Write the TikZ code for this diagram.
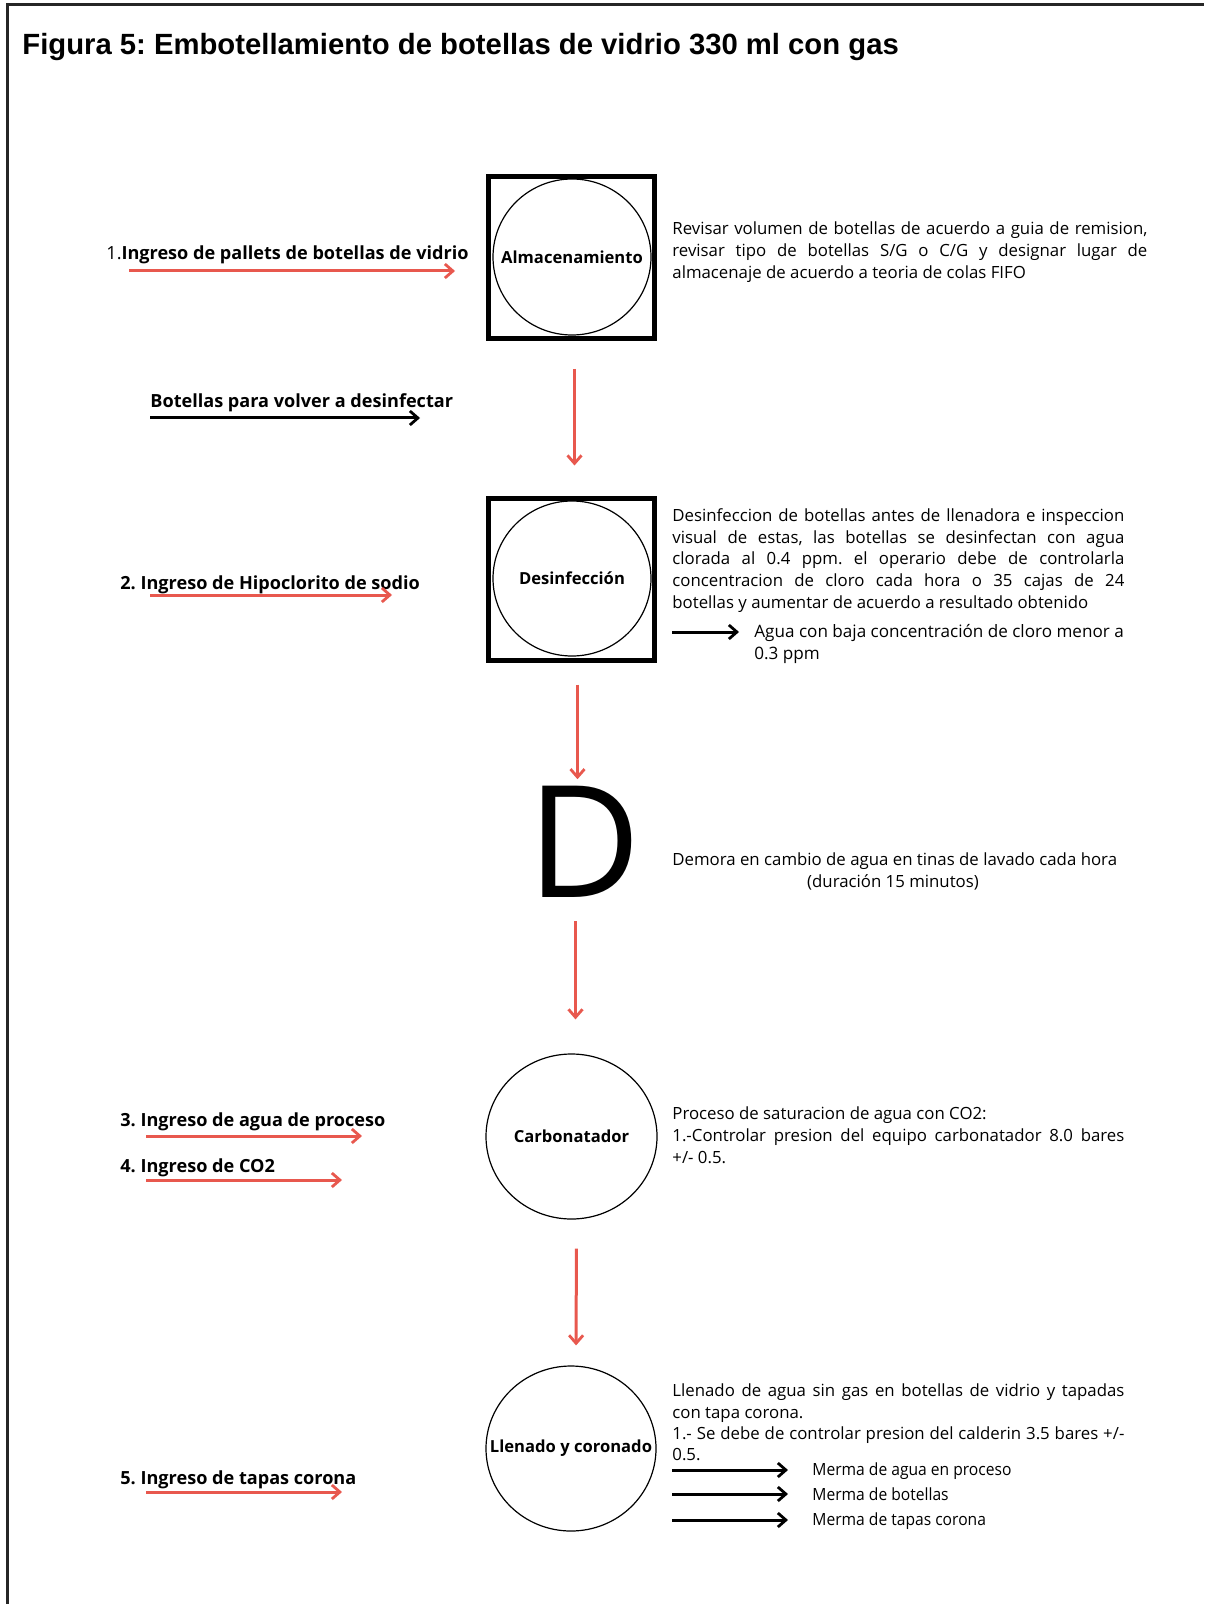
\documentclass[tikz,border=0pt]{standalone}
\usepackage{fontspec}
\usetikzlibrary{arrows.meta,shapes.geometric}
\setmainfont{Open Sans}
\newfontfamily\titlefont{Liberation Sans}
\newfontfamily\mermafont{Open Sans}[FakeStretch=0.93]
\definecolor{flowred}{RGB}{232,88,78}
\frenchspacing
\newcommand{\bodysize}{\fontsize{8.4pt}{11pt}\selectfont}
\newcommand{\labelsize}{\fontsize{9.05pt}{11pt}\selectfont\bfseries}
\newcommand{\procsize}{\fontsize{8.3pt}{11pt}\selectfont\bfseries}
% a line stretched to a given width in sheet pixels (one pixel = 0.5pt)
\newcommand{\jline}[2]{\makebox[\dimexpr #1pt/2\relax][s]{#2}}
\tikzset{
  redflow/.style={draw=flowred, line width=1.5pt, -{Straight Barb[length=4pt,width=7pt,line width=1.4pt]}},
  blackflow/.style={draw=black, line width=1.5pt, -{Straight Barb[length=4pt,width=7pt,line width=1.4pt]}},
  procbox/.style={draw, line width=2.5pt, minimum width=83pt, minimum height=81pt, inner sep=0pt},
  proc/.style={draw, ellipse, line width=0.6pt, inner sep=0pt, font=\procsize},
  body/.style={anchor=base west, inner sep=0pt, font=\bodysize},
  mermabody/.style={body, font=\bodysize\mermafont},
  inlabel/.style={anchor=base west, inner sep=0pt, font=\labelsize},
}
\begin{document}
\begin{tikzpicture}[x=0.5pt,y=-0.5pt]
\useasboundingbox (0,0) rectangle (1204,1604);
% sheet frame
\draw[line width=1.5pt, black!85] (7,1604) -- (7,5) -- (1204,5);

% title
\node[anchor=base west, inner sep=0pt, font=\titlefont\bfseries\fontsize{14.63pt}{17pt}\selectfont] (title) at (22,55)
  {Figura 5: Embotellamiento de botellas de vidrio 330 ml con gas};

% process symbols
\node[procbox] (almbox) at (571.5,257.5) {};
\node[proc, minimum width=79pt, minimum height=78pt] (alm) at (572,257) {\makebox[0pt]{Almacenamiento}};
\node[procbox] (desbox) at (571.5,579) {};
\node[proc, minimum width=79pt, minimum height=77.5pt] (des) at (572,578.5) {\makebox[0pt]{Desinfección}};
\node[anchor=base west, inner sep=0pt, font=\fontsize{78pt}{80pt}\selectfont] (delay) at (527,897) {D};
\node[proc, minimum width=85.5pt, minimum height=82.5pt] (carb) at (571.5,1136.5) {\makebox[0pt]{Carbonatador}};
\node[proc, minimum width=85pt, minimum height=82.5pt] (llen) at (571,1448.5) {\makebox[0pt]{Llenado y coronado}};

% main flow
\draw[redflow, shorten <=14pt, shorten >=15pt] ([xshift=1.5pt]almbox.south) -- ([xshift=1.5pt]desbox.north);
\draw[redflow, shorten <=11pt, shorten >=3pt] ([xshift=3pt]desbox.south) -- ([xshift=3pt]desbox.south |- delay.north);
\draw[redflow, shorten <=12pt, shorten >=17pt] ([xshift=2pt]desbox.south |- delay.south) -- ([xshift=2pt]carb.north);
\draw[redflow, shorten <=14.5pt, shorten >=10pt] ([xshift=2.5pt]carb.south) -- ([xshift=2.5pt]llen.north);

% inputs
\node[inlabel] (in1) at (106,260) {\mdseries 1.\bfseries Ingreso de pallets de botellas de vidrio};
\coordinate (in1a) at (129,271); \coordinate (in1b) at (455,271);
\draw[redflow] (in1a) -- (in1b);

\node[inlabel] (back) at (150,408) {Botellas para volver a desinfectar};
\coordinate (backa) at (150,418); \coordinate (backb) at (420,418);
\draw[blackflow] (backa) -- (backb);

\node[inlabel] (in2) at (120,589) {2. Ingreso de Hipoclorito de sodio};
\coordinate (in2a) at (150,595); \coordinate (in2b) at (392,595);
\draw[redflow] (in2a) -- (in2b);

\node[inlabel] (in3) at (120,1126) {3. Ingreso de agua de proceso};
\coordinate (in3a) at (146,1136); \coordinate (in3b) at (362,1136);
\draw[redflow] (in3a) -- (in3b);

\node[inlabel] (in4) at (120,1172) {4. Ingreso de CO2};
\coordinate (in4a) at (146,1180); \coordinate (in4b) at (342,1180);
\draw[redflow] (in4a) -- (in4b);

\node[inlabel] (in5) at (120,1484) {5. Ingreso de tapas corona};
\coordinate (in5a) at (146,1492); \coordinate (in5b) at (342,1492);
\draw[redflow] (in5a) -- (in5b);

% notes beside almacenamiento
\node[body] (n1a) at (672,235) {\jline{475}{Revisar volumen de botellas de acuerdo a guia de remision,}};
\node[body] (n1b) at (672,257) {\jline{475}{revisar tipo de botellas S/G o C/G y designar lugar de}};
\node[body] (n1c) at (672,279) {almacenaje de acuerdo a teoria de colas FIFO};

% notes beside desinfeccion
\node[body] (n2a) at (672,521) {\jline{452}{Desinfeccion de botellas antes de llenadora e inspeccion}};
\node[body] (n2b) at (672,543) {\jline{452}{visual de estas, las botellas se desinfectan con agua}};
\node[body] (n2c) at (672,564) {\jline{452}{clorada al 0.4 ppm. el operario debe de controlarla}};
\node[body] (n2d) at (672,586) {\jline{452}{concentracion de cloro cada hora o 35 cajas de 24}};
\node[body] (n2e) at (672,608) {botellas y aumentar de acuerdo a resultado obtenido};
\coordinate (out2a) at (672,632); \coordinate (out2b) at (739,632);
\draw[blackflow] (out2a) -- (out2b);
\node[body, font=\fontsize{8.55pt}{11pt}\selectfont] (out2) at (754,637) {Agua con baja concentración de cloro menor a};
\node[body, font=\fontsize{8.55pt}{11pt}\selectfont] (out2l) at (754,659) {0.3 ppm};

% notes beside the delay
\node[body] (n3a) at (672,865) {Demora en cambio de agua en tinas de lavado cada hora};
\node[body, anchor=base] (n3b) at (893,887) {(duración 15 minutos)};

% notes beside carbonatador
\node[body] (n4a) at (672,1119) {Proceso de saturacion de agua con CO2:};
\node[body] (n4b) at (672,1141) {\jline{452}{1.-Controlar presion del equipo carbonatador 8.0 bares}};
\node[body] (n4c) at (672,1163) {+/- 0.5.};

% notes beside llenado
\node[body] (n5a) at (672,1396) {\jline{452}{Llenado de agua sin gas en botellas de vidrio y tapadas}};
\node[body] (n5b) at (672,1418) {con tapa corona.};
\node[body] (n5c) at (672,1439) {\jline{452}{1.- Se debe de controlar presion del calderin 3.5 bares +/-}};
\node[body] (n5d) at (672,1460) {0.5.};
\coordinate (o1a) at (672,1470); \coordinate (o1b) at (788,1470);
\coordinate (o2a) at (672,1494); \coordinate (o2b) at (788,1494);
\coordinate (o3a) at (672,1520); \coordinate (o3b) at (788,1520);
\draw[blackflow] (o1a) -- (o1b);
\draw[blackflow] (o2a) -- (o2b);
\draw[blackflow] (o3a) -- (o3b);
\node[mermabody] (m1) at (812,1475) {Merma de agua en proceso};
\node[mermabody] (m2) at (812,1500) {Merma de botellas};
\node[mermabody] (m3) at (812,1525) {Merma de tapas corona};
\end{tikzpicture}
\end{document}
